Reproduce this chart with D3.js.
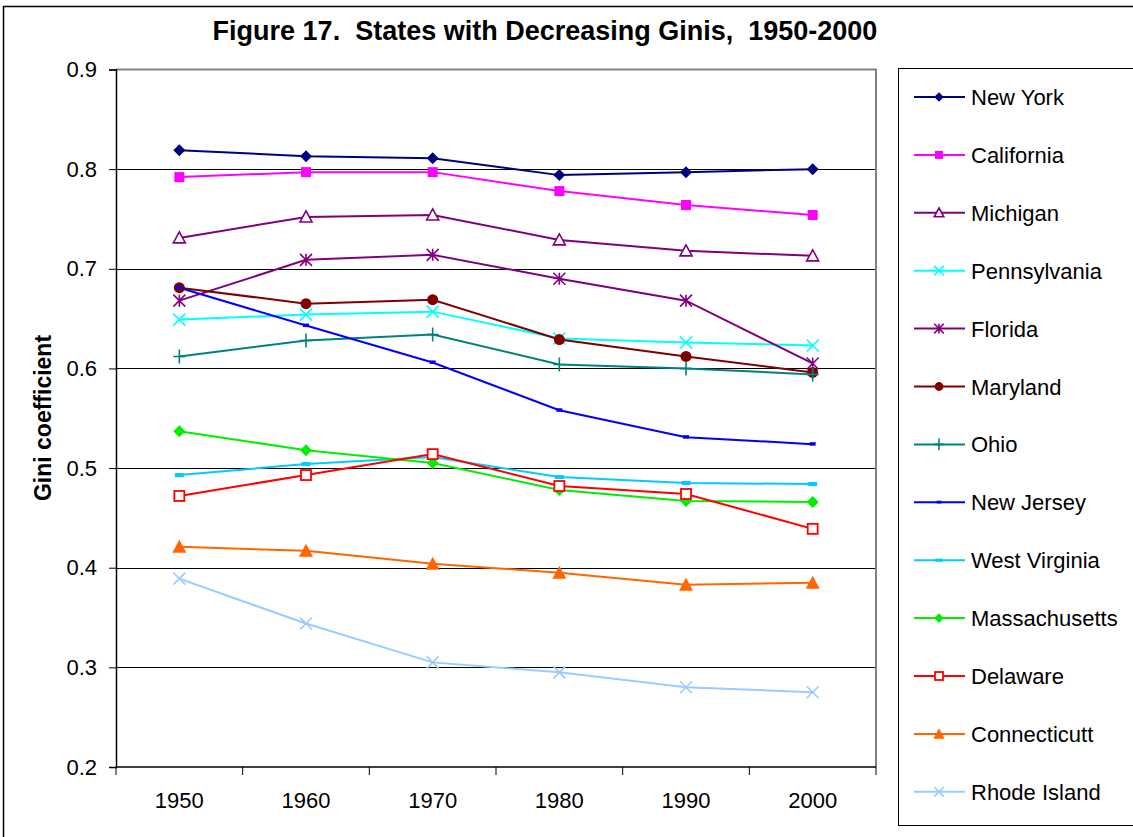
<!DOCTYPE html>
<html>
<head>
<meta charset="utf-8">
<script src="https://cdn.jsdelivr.net/npm/d3@7"></script>
<style>
  body { margin: 0; background: #fff; }
  svg { display: block; font-family: "Liberation Sans", Arial, sans-serif; }
</style>
</head>
<body>
<svg width="1133" height="837"></svg>
<script>
// data
var years = ["1950", "1960", "1970", "1980", "1990", "2000"];
var yTicks = [0.2, 0.3, 0.4, 0.5, 0.6, 0.7, 0.8, 0.9];

var newYork       = [0.819, 0.813, 0.811, 0.794, 0.797, 0.800];
var california    = [0.792, 0.797, 0.797, 0.778, 0.764, 0.754];
var michigan      = [0.731, 0.752, 0.754, 0.729, 0.718, 0.713];
var pennsylvania  = [0.649, 0.654, 0.657, 0.630, 0.626, 0.623];
var florida       = [0.668, 0.709, 0.714, 0.690, 0.668, 0.605];
var maryland      = [0.681, 0.665, 0.669, 0.629, 0.612, 0.596];
var ohio          = [0.612, 0.628, 0.634, 0.604, 0.600, 0.594];
var newJersey     = [0.681, 0.643, 0.606, 0.558, 0.531, 0.524];
var westVirginia  = [0.493, 0.504, 0.511, 0.491, 0.485, 0.484];
var massachusetts = [0.537, 0.518, 0.505, 0.478, 0.467, 0.466];
var delaware      = [0.472, 0.493, 0.514, 0.482, 0.474, 0.439];
var connecticut   = [0.421, 0.417, 0.404, 0.395, 0.383, 0.385];
var rhodeIsland   = [0.389, 0.344, 0.305, 0.295, 0.280, 0.275];

var series = [
  {name: "New York",      values: newYork,       color: "#000080", marker: "diamond"},
  {name: "California",    values: california,    color: "#ff00ff", marker: "square"},
  {name: "Michigan",      values: michigan,      color: "#800080", marker: "triangleOpen"},
  {name: "Pennsylvania",  values: pennsylvania,  color: "#00ffff", marker: "x"},
  {name: "Florida",       values: florida,       color: "#800080", marker: "asterisk"},
  {name: "Maryland",      values: maryland,      color: "#800000", marker: "circle"},
  {name: "Ohio",          values: ohio,          color: "#008080", marker: "plus"},
  {name: "New Jersey",    values: newJersey,     color: "#0000ff", marker: "dashSmall"},
  {name: "West Virginia", values: westVirginia,  color: "#00ccff", marker: "dash"},
  {name: "Massachusetts", values: massachusetts, color: "#00ee00", marker: "diamond"},
  {name: "Delaware",      values: delaware,      color: "#ff0000", marker: "squareOpen"},
  {name: "Connecticutt",  values: connecticut,   color: "#ff6600", marker: "triangle"},
  {name: "Rhode Island",  values: rhodeIsland,   color: "#99ccff", marker: "x"}
];

function main() {
  var svg = d3.select('svg');

  // outer chart frame
  svg.append('rect')
    .attr('x', 3.5).attr('y', 6.5)
    .attr('width', 1140).attr('height', 840)
    .attr('fill', 'none').attr('stroke', '#000').attr('stroke-width', 1.5);

  var left = 116, right = 876, top = 69.5, bottom = 767;

  var x = d3.scalePoint().domain(years).range([left, right]).padding(0.5);
  var y = d3.scaleLinear().domain([0.2, 0.9]).range([bottom, top]);

  // title
  svg.append('text')
    .attr('x', 545).attr('y', 40)
    .attr('text-anchor', 'middle')
    .attr('font-size', 27).attr('font-weight', 'bold')
    .style('white-space', 'pre')
    .text('Figure 17.  States with Decreasing Ginis,  1950-2000');

  // gridlines
  svg.append('g').selectAll('line')
    .data(yTicks.slice(1, -1))
    .enter().append('line')
    .attr('x1', left).attr('x2', right)
    .attr('y1', function(d){ return Math.round(y(d)) + 0.5; })
    .attr('y2', function(d){ return Math.round(y(d)) + 0.5; })
    .attr('stroke', '#000').attr('stroke-width', 1);

  // top and right border in gray
  svg.append('path')
    .attr('d', 'M' + left + ',' + (top) + 'H' + right + 'V' + bottom)
    .attr('fill', 'none').attr('stroke', '#808080').attr('stroke-width', 2);

  // y axis
  var yAxis = svg.append('g')
    .attr('transform', 'translate(' + left + ',0)')
    .call(d3.axisLeft(y).tickValues(yTicks).tickSize(7).tickPadding(12)
      .tickFormat(d3.format('.1f')));
  yAxis.select('.domain').attr('stroke', '#000').attr('stroke-width', 1.5);
  yAxis.selectAll('.tick line').attr('stroke', '#000');
  yAxis.selectAll('text').attr('font-size', 22).attr('fill', '#000')
    .attr('font-family', '"Liberation Sans", Arial, sans-serif');

  // x axis line with ticks at category boundaries
  var step = x.step();
  var xAxis = svg.append('g');
  xAxis.append('line')
    .attr('x1', left).attr('x2', right)
    .attr('y1', bottom).attr('y2', bottom)
    .attr('stroke', '#000').attr('stroke-width', 1.5);
  xAxis.selectAll('.bt')
    .data(d3.range(years.length + 1))
    .enter().append('line')
    .attr('class', 'bt')
    .attr('x1', function(i){ return left + i * step; })
    .attr('x2', function(i){ return left + i * step; })
    .attr('y1', bottom).attr('y2', bottom + 8)
    .attr('stroke', '#000');
  xAxis.selectAll('text')
    .data(years)
    .enter().append('text')
    .attr('x', function(d){ return x(d); })
    .attr('y', 808)
    .attr('text-anchor', 'middle')
    .attr('font-size', 22)
    .text(function(d){ return d; });

  // y axis title
  svg.append('text')
    .attr('transform', 'translate(51,418) rotate(-90)')
    .attr('text-anchor', 'middle')
    .attr('font-size', 23).attr('font-weight', 'bold')
    .text('Gini coefficient');

  // marker drawing
  function drawMarker(sel, type, color, s) {
    var r = 6 * s;
    if (type === 'diamond') {
      sel.append('path').attr('d', 'M0,' + (-r) + 'L' + r + ',0L0,' + r + 'L' + (-r) + ',0Z')
        .attr('fill', color);
    } else if (type === 'square') {
      sel.append('rect').attr('x', -5 * s).attr('y', -5 * s)
        .attr('width', 10 * s).attr('height', 10 * s).attr('fill', color);
    } else if (type === 'squareOpen') {
      sel.append('rect').attr('x', -5 * s).attr('y', -5 * s)
        .attr('width', 10 * s).attr('height', 10 * s)
        .attr('fill', '#fff').attr('stroke', color).attr('stroke-width', 1.8);
    } else if (type === 'triangleOpen') {
      sel.append('path').attr('d', 'M0,' + (-6 * s) + 'L' + (6 * s) + ',' + (5 * s) + 'L' + (-6 * s) + ',' + (5 * s) + 'Z')
        .attr('fill', '#fff').attr('stroke', color).attr('stroke-width', 1.6);
    } else if (type === 'triangle') {
      sel.append('path').attr('d', 'M0,' + (-7 * s) + 'L' + (7 * s) + ',' + (6 * s) + 'L' + (-7 * s) + ',' + (6 * s) + 'Z')
        .attr('fill', color);
    } else if (type === 'circle') {
      sel.append('circle').attr('r', 5.5 * s).attr('fill', color);
    } else if (type === 'x') {
      sel.append('path').attr('d', 'M' + (-r) + ',' + (-r) + 'L' + r + ',' + r + 'M' + r + ',' + (-r) + 'L' + (-r) + ',' + r)
        .attr('stroke', color).attr('stroke-width', 1.6);
    } else if (type === 'asterisk') {
      sel.append('path').attr('d', 'M' + (-r) + ',' + (-r) + 'L' + r + ',' + r + 'M' + r + ',' + (-r) + 'L' + (-r) + ',' + r +
          'M0,' + (-r) + 'L0,' + r)
        .attr('stroke', color).attr('stroke-width', 1.6);
    } else if (type === 'plus') {
      sel.append('path').attr('d', 'M' + (-r) + ',0L' + r + ',0M0,' + (-r - 1) + 'L0,' + (r + 1))
        .attr('stroke', color).attr('stroke-width', 1.6);
    } else if (type === 'dashSmall') {
      sel.append('rect').attr('x', -3 * s).attr('y', -2 * s)
        .attr('width', 6 * s).attr('height', 3.5 * s).attr('fill', color);
    } else if (type === 'dash') {
      sel.append('rect').attr('x', -4.5 * s).attr('y', -2 * s)
        .attr('width', 9 * s).attr('height', 4 * s).attr('fill', color);
    }
  }

  var line = d3.line()
    .x(function(d, i){ return x(years[i]); })
    .y(function(d){ return y(d); });

  var g = svg.append('g');
  series.forEach(function(s) {
    g.append('path')
      .attr('d', line(s.values))
      .attr('fill', 'none')
      .attr('stroke', s.color)
      .attr('stroke-width', 2);
  });
  series.forEach(function(s) {
    s.values.forEach(function(v, i) {
      var m = g.append('g')
        .attr('transform', 'translate(' + x(years[i]) + ',' + y(v) + ')');
      drawMarker(m, s.marker, s.color, 1);
    });
  });

  // legend
  var lg = svg.append('g');
  lg.append('rect')
    .attr('x', 898.5).attr('y', 68.5)
    .attr('width', 300).attr('height', 757)
    .attr('fill', '#fff').attr('stroke', '#000').attr('stroke-width', 1);
  var item = lg.selectAll('.item')
    .data(series)
    .enter().append('g')
    .attr('class', 'item')
    .attr('transform', function(d, i){ return 'translate(0,' + (97 + i * 57.9) + ')'; });
  item.append('line')
    .attr('x1', 914).attr('x2', 965)
    .attr('stroke', function(d){ return d.color; })
    .attr('stroke-width', 2);
  item.each(function(d) {
    var m = d3.select(this).append('g').attr('transform', 'translate(939,0)');
    drawMarker(m, d.marker, d.color, 0.8);
  });
  item.append('text')
    .attr('x', 971).attr('y', 8)
    .attr('font-size', 22)
    .text(function(d){ return d.name; });
}
main();
</script>
</body>
</html>
